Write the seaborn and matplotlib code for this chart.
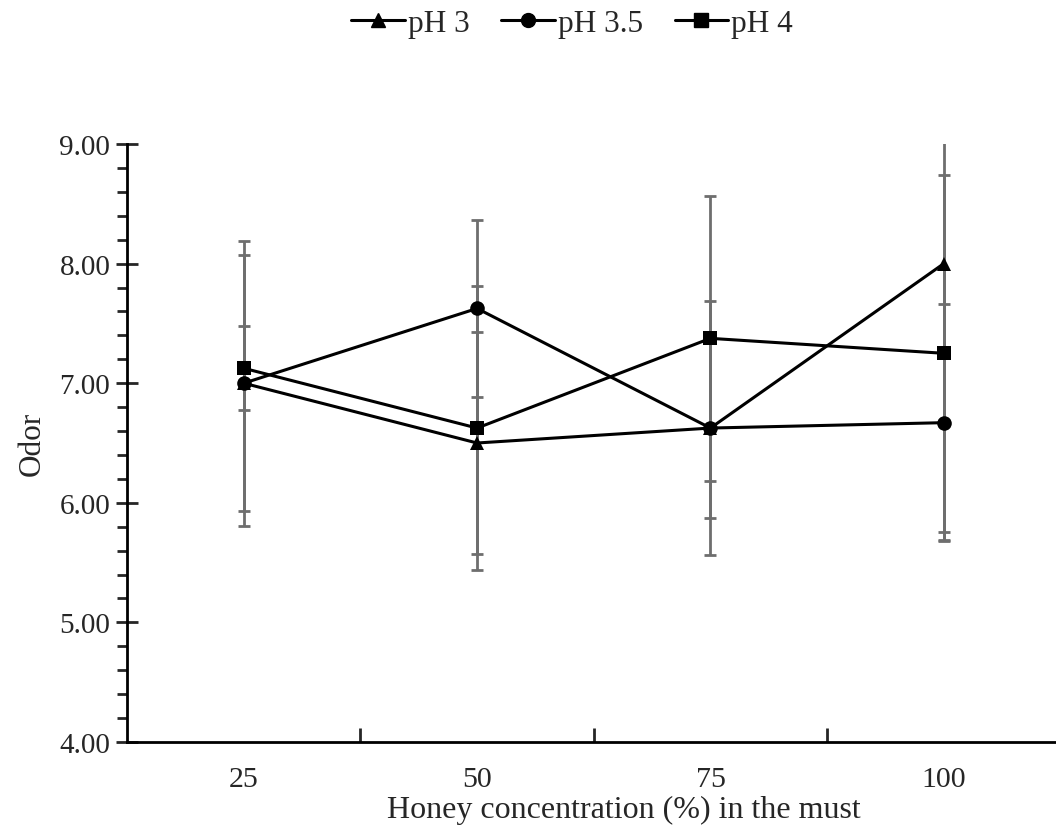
import numpy as np
import pandas as pd
import seaborn as sns
import matplotlib.pyplot as plt
from matplotlib.ticker import MultipleLocator, FixedLocator, NullFormatter

# data
concentrations = ['25', '50', '75', '100']
series_names = ['pH 3', 'pH 3.5', 'pH 4']
ph3_mean = [7.00, 6.50, 6.625, 8.00]
ph3_sd = [1.19, 0.93, 1.06, 2.31]
ph35_mean = [7.00, 7.625, 6.625, 6.67]
ph35_sd = [1.07, 0.74, 0.75, 0.99]
ph4_mean = [7.125, 6.625, 7.375, 7.25]
ph4_sd = [0.35, 1.19, 1.19, 1.49]

df = pd.DataFrame({
    'conc': concentrations * 3,
    'series': np.repeat(series_names, 4),
    'odor': ph3_mean + ph35_mean + ph4_mean,
    'sd': ph3_sd + ph35_sd + ph4_sd,
})

sns.set_style('white')
plt.rcParams['font.family'] = ['Liberation Serif', 'DejaVu Serif']
FS = 22.5

fig = plt.figure(figsize=(10.56, 8.29), dpi=100)
ax = fig.add_axes([127 / 1056, 1 - 743 / 829, 933.5 / 1056, 598 / 829])

markers = {'pH 3': '^', 'pH 3.5': 'o', 'pH 4': 's'}
df['xpos'] = df['conc'].map({c: i for i, c in enumerate(concentrations)})

# error bars first (grey, underneath)
for name in series_names:
    sub = df[df['series'] == name]
    ax.errorbar(sub['xpos'], sub['odor'], yerr=sub['sd'], fmt='none',
                ecolor='#6e6e6e', elinewidth=2, capsize=4.5, capthick=2, zorder=2)

sns.lineplot(data=df, x='xpos', y='odor', hue='series', style='series',
             markers=markers, dashes=False, palette=['black'] * 3,
             linewidth=2.2, markersize=10.5, markeredgewidth=0,
             ax=ax, zorder=3, legend=False)

ax.set_xlim(-0.5, 3.5)
ax.set_ylim(4, 9)

# y ticks: major crossing, minor outside
ax.yaxis.set_major_locator(MultipleLocator(1))
ax.yaxis.set_minor_locator(MultipleLocator(0.2))
ax.set_yticklabels([f'{v:.2f}' for v in ax.get_yticks()])
ax.tick_params(axis='y', which='major', direction='inout', length=16, width=2,
               left=True, labelsize=21, pad=4)
ax.tick_params(axis='y', which='minor', direction='out', length=7, width=2, left=True)

# x ticks: marks between categories, labels at categories
ax.xaxis.set_major_locator(FixedLocator([0.5, 1.5, 2.5]))
ax.xaxis.set_major_formatter(NullFormatter())
ax.xaxis.set_minor_locator(FixedLocator(range(len(concentrations))))
ax.set_xticklabels(concentrations, minor=True)
ax.tick_params(axis='x', which='major', direction='in', length=10, width=2, bottom=True)
ax.tick_params(axis='x', which='minor', length=0, labelsize=21.5, pad=17)

sns.despine(ax=ax)
for side in ['left', 'bottom']:
    ax.spines[side].set_color('black')
    ax.spines[side].set_linewidth(2)

ax.set_xlabel('Honey concentration (%) in the must', fontsize=23)
ax.xaxis.set_label_coords(0.532, -0.089)
ax.set_ylabel('Odor', fontsize=FS)
ax.yaxis.set_label_coords(-0.086, 0.5)

handles = [plt.Line2D([], [], color='black', lw=2.2, marker=markers[n], markersize=10)
           for n in series_names]
fig.legend(handles, series_names, loc='upper center', bbox_to_anchor=(0.542, 1.022),
           ncol=3, frameon=False, fontsize=FS, handlelength=1.72, handletextpad=0.1,
           columnspacing=1.0)

fig.savefig('out.png', dpi=100)
